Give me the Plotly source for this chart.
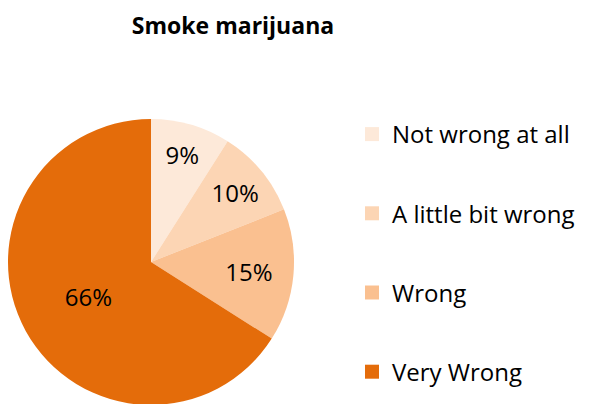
import plotly.graph_objects as go

# Responses to "Smoke marijuana"
labels = ['Not wrong at all', 'A little bit wrong', 'Wrong', 'Very Wrong']
values = [9, 10, 15, 66]
colors = ['#FDE9D9', '#FCD5B4', '#FAC090', '#E46C0A']

W, H = 589, 404
OFF = 8  # the page body adds an 8px margin round the figure
font = 'Open Sans'

fig = go.Figure()

fig.add_trace(go.Pie(
    labels=labels,
    values=values,
    sort=False,
    direction='clockwise',
    rotation=0,
    marker=dict(colors=colors, line=dict(width=0)),
    texttemplate='%{percent:.0%}',
    textposition='inside',
    insidetextorientation='horizontal',
    insidetextfont=dict(family=font, size=24, color='black'),
    showlegend=False,
    domain=dict(x=[0, 286 / W], y=[1 - (119 - OFF + 286) / H, 1 - (119 - OFF) / H]),
    hoverinfo='label+percent',
))

# legend entries as empty scatter traces so the spacing can be opened up
for lab, col in zip(labels, colors):
    fig.add_trace(go.Scatter(
        x=[None], y=[None], mode='markers', name=lab,
        legendgroup=lab,
        marker=dict(symbol='square', size=14, color=col),
    ))

fig.update_layout(
    width=W, height=H,
    margin=dict(l=0, r=0, t=0, b=0),
    paper_bgcolor='white',
    plot_bgcolor='white',
    title=dict(text='<b>Smoke marijuana</b>', x=(233 - OFF) / W, xanchor='center',
               y=1 - (26 - OFF) / H, yanchor='middle',
               font=dict(family=font, size=23, color='black')),
    xaxis=dict(visible=False),
    yaxis=dict(visible=False),
    legend=dict(x=(352 - OFF) / W, xanchor='left', y=1 - (112 - OFF) / H, yanchor='top',
                font=dict(family=font, size=24, color='black'),
                tracegroupgap=45, itemwidth=30,
                bgcolor='rgba(0,0,0,0)'),
)

fig.write_html('out.html')
